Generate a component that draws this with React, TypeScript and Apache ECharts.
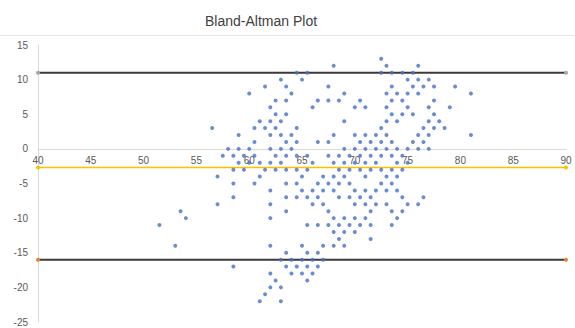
import React, { useEffect, useRef } from "react";
import * as echarts from "echarts";

const titleText = "Bland-Altman Plot";

// Differences (y) for each row of points, and the averages (x) found on that row
const rowDifferences: number[] = [
  13, 12, 11, 10, 9, 8, 7, 6, 5, 4, 3, 2, 1, 0, -1, -2, -3, -4, -5, -6, -7, -8,
  -9, -10, -11, -12, -13, -14, -15, -16, -17, -18, -19, -20, -21, -22,
];
const rowAverages: number[][] = [
  [72.5],
  [68, 73, 76],
  [64.5, 65.5, 72.5, 73.5, 74.5, 75.5],
  [63, 65, 75, 76, 77],
  [61.5, 63.5, 67.5, 73.5, 75.5, 76.5, 77.5, 79.5],
  [60, 64, 69, 73, 74, 75, 76, 81],
  [62.5, 63.5, 66.5, 67.5, 68.5, 70.5, 73.5, 74.5, 77.5],
  [62, 66, 70, 71, 73, 75, 77, 79],
  [62.5, 63.5, 73.5, 74.5, 75.5, 77.5],
  [61, 62, 63, 69, 73, 74, 77, 78],
  [56.5, 60.5, 61.5, 62.5, 64.5, 72.5, 76.5, 77.5, 78.5],
  [59, 62, 63, 64, 68, 70, 71, 72, 73, 76, 77, 81],
  [60.5, 63.5, 64.5, 66.5, 67.5, 70.5, 71.5, 72.5, 73.5, 75.5, 76.5],
  [58, 59, 60, 62, 63, 64, 69, 70, 71, 72, 73, 74, 75, 76, 77],
  [57.5, 58.5, 59.5, 60.5, 62.5, 63.5, 64.5, 65.5, 67.5, 68.5, 69.5, 70.5, 71.5, 72.5, 73.5, 74.5],
  [59, 60, 61, 62, 63, 66, 68, 69, 70, 71, 72, 74, 75],
  [58.5, 59.5, 61.5, 62.5, 63.5, 64.5, 65.5, 68.5, 69.5, 70.5, 71.5, 72.5, 73.5, 74.5],
  [57, 61, 65, 67, 68, 69, 71, 73, 74],
  [58.5, 60.5, 63.5, 64.5, 66.5, 67.5, 68.5, 69.5, 72.5, 73.5],
  [62, 65, 66, 67, 68, 70, 71, 72, 73, 74],
  [58.5, 63.5, 64.5, 65.5, 66.5, 68.5, 69.5, 70.5, 71.5, 74.5, 76.5],
  [57, 62, 66, 67, 70, 71, 72, 73, 75, 76],
  [53.5, 63.5, 67.5, 71.5, 73.5, 74.5],
  [54, 62, 68, 69, 70, 71, 74],
  [51.5, 65.5, 66.5, 67.5, 68.5, 69.5, 70.5, 71.5, 73.5],
  [68, 69, 70],
  [68.5, 71.5],
  [53, 62, 65, 67, 68, 69],
  [63.5, 65.5, 66.5],
  [63, 64, 65, 66, 67],
  [58.5, 63.5, 64.5, 65.5, 66.5],
  [62, 64, 65, 66],
  [62.5, 65.5],
  [62, 63],
  [61.5],
  [61, 63],
];

const lineX: number[] = [40, 90];
const upperLimit = 11.0;
const meanDifference = -2.7;
const lowerLimit = -16.0;

const xTicks = { min: 40, max: 90, interval: 5 };
const yTicks = { min: -25, max: 15, interval: 5 };

const gridTop = 45;
const gridBottom = 6;
const chartHeight = 328;

export default function App() {
  const ref = useRef<HTMLDivElement>(null);

  useEffect(() => {
    if (!ref.current) return;
    const chart = echarts.init(ref.current, undefined, { renderer: "svg" });

    const points: number[][] = [];
    rowDifferences.forEach((d, i) => {
      (rowAverages[i] || []).forEach((x) => points.push([x, d]));
    });

    const hline = (v: number) => lineX.map((x) => [x, v]);
    const font = "Liberation Sans, Arial, sans-serif";

    // place the x axis on y = 0 (labels move with it)
    const plotH = chartHeight - gridTop - gridBottom;
    const zeroFromBottom = ((0 - yTicks.min) / (yTicks.max - yTicks.min)) * plotH;

    chart.setOption({
      animation: false,
      backgroundColor: "#ffffff",
      title: {
        text: titleText,
        left: 200,
        top: 9,
        textStyle: {
          fontFamily: font,
          fontSize: 14,
          fontWeight: "normal",
          color: "#404040",
        },
      },
      graphic: [
        {
          type: "line",
          shape: { x1: 0, y1: 35.5, x2: 575, y2: 35.5 },
          style: { stroke: "#e6e6e6", lineWidth: 1 },
        },
      ],
      grid: {
        left: 38,
        right: 9,
        top: gridTop,
        bottom: gridBottom,
        containLabel: false,
        outerBoundsMode: "none",
      },
      xAxis: {
        type: "value",
        min: xTicks.min,
        max: xTicks.max,
        interval: xTicks.interval,
        position: "bottom",
        offset: -zeroFromBottom,
        axisLine: { show: true, onZero: false, lineStyle: { color: "#d9d9d9", width: 1 } },
        axisTick: { show: false },
        splitLine: { show: false },
        axisLabel: { color: "#595959", fontSize: 10, fontFamily: font, margin: 7 },
      },
      yAxis: {
        type: "value",
        min: yTicks.min,
        max: yTicks.max,
        interval: yTicks.interval,
        axisLine: { show: true, onZero: false, lineStyle: { color: "#d9d9d9", width: 1 } },
        axisTick: { show: false },
        splitLine: { show: false },
        axisLabel: { color: "#595959", fontSize: 10, fontFamily: font, margin: 10 },
      },
      series: [
        {
          type: "line",
          data: hline(upperLimit),
          symbol: "circle",
          symbolSize: 4,
          itemStyle: { color: "#a5a5a5" },
          lineStyle: { color: "#3a3a3a", width: 2 },
          z: 2,
        },
        {
          type: "line",
          data: hline(meanDifference),
          symbol: "circle",
          symbolSize: 4,
          itemStyle: { color: "#ffc000" },
          lineStyle: { color: "#ffc000", width: 1.5 },
          z: 2,
        },
        {
          type: "line",
          data: hline(lowerLimit),
          symbol: "circle",
          symbolSize: 4,
          itemStyle: { color: "#ed7d31" },
          lineStyle: { color: "#3a3a3a", width: 2 },
          z: 2,
        },
        {
          type: "scatter",
          data: points,
          symbol: "circle",
          symbolSize: 4,
          itemStyle: { color: "#4472c4" },
          z: 3,
        },
      ],
    });

    return () => chart.dispose();
  }, []);

  return (
    <div
      ref={ref}
      style={{ position: "fixed", left: 0, top: 0, width: 575, height: 328 }}
    />
  );
}
